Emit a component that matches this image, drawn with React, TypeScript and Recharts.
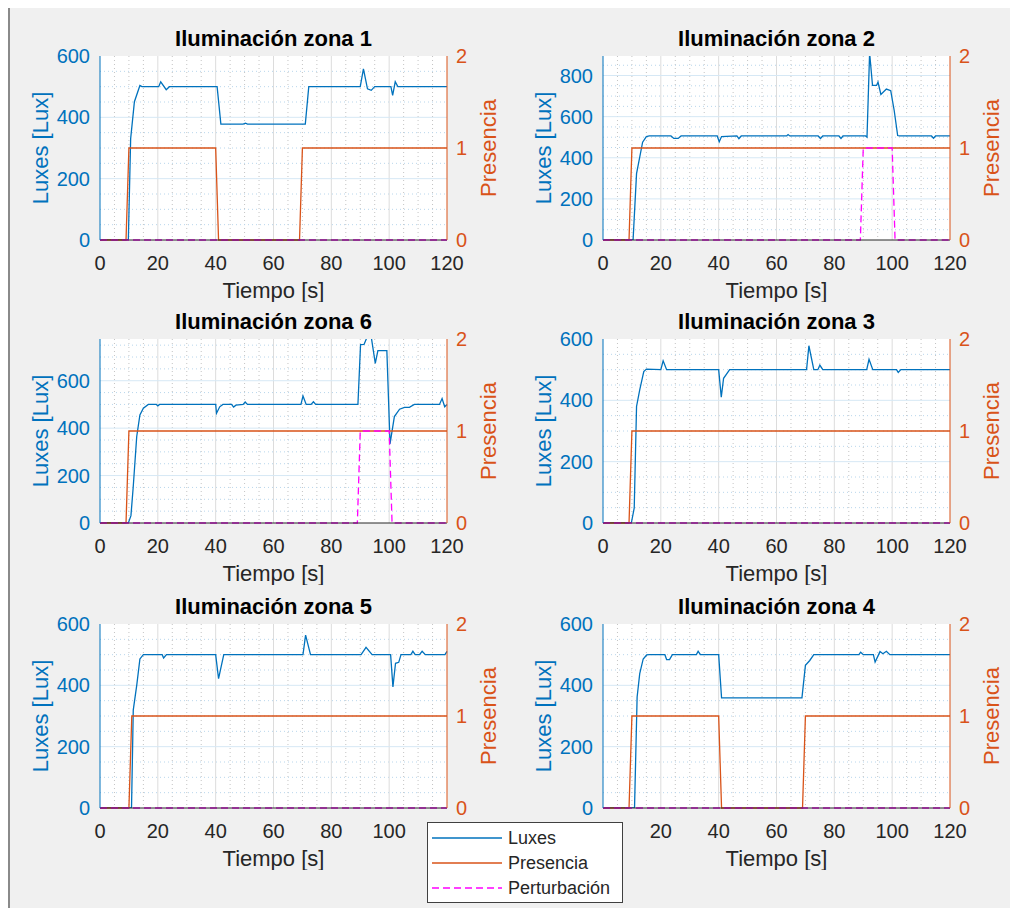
import React from 'react';
import { ComposedChart, Line, XAxis, YAxis, CartesianGrid } from 'recharts';

const FONT = '"Liberation Sans", Arial, Helvetica, sans-serif';
const AZUL = '#0072BD';
const NARANJA = '#D95319';
const MAGENTA = '#FF00FF';
const GRIS = '#262626';

// ejes
const tiempoTicks = [0, 20, 40, 60, 80, 100, 120];
const tiempoMayores = [20, 40, 60, 80, 100];
const tiempoMenores = [5, 10, 15, 25, 30, 35, 45, 50, 55, 65, 70, 75, 85, 90, 95, 105, 110, 115];
const luxTicks600 = [0, 200, 400, 600];
const luxTicks800 = [0, 200, 400, 600, 800];
const luxMayores = [200, 400, 600, 800];
const luxMenores = [50, 100, 150, 250, 300, 350, 450, 500, 550, 650, 700, 750, 850];
const presenciaTicks = [0, 1, 2];

// [tiempo, valor]
const zona1Luxes = [[0, 0], [9.8, 0], [10.6, 330], [11.9, 451], [13.8, 504], [14.5, 500], [20.3, 500], [21, 516], [22.9, 490], [24, 500], [40.5, 500], [41.8, 378], [49.5, 378], [50.3, 381], [51, 378], [71, 378], [72.2, 500], [90, 500], [91.1, 558], [92.5, 493], [93.8, 488], [95, 500], [100.6, 500], [101.2, 472], [102.1, 516], [103, 500], [120, 500]];
const zona1Presencia = [[0, 0], [9, 0], [10, 1], [40, 1], [41, 0], [69, 0], [70, 1], [120, 1]];
const zona1Perturbacion = [[0, 0], [120, 0]];

const zona2Luxes = [[0, 0], [10.4, 0], [11.6, 323], [13.7, 476], [15, 503], [16, 506], [23.5, 506], [24.5, 494], [26, 494], [27, 506], [39.5, 506], [40.2, 478], [41, 503], [46.3, 506], [47, 493], [47.8, 506], [63.5, 506], [64, 513], [64.6, 506], [74.4, 506], [75.2, 494], [76, 506], [81.6, 506], [82.3, 494], [83, 506], [90.8, 506], [91.3, 500], [92.2, 910], [93.2, 752], [94.6, 752], [95.1, 768], [96.1, 708], [98, 734], [99.5, 726], [100.7, 630], [101.9, 508], [102.5, 506], [113.6, 506], [114.3, 495], [115, 506], [120, 506]];
const zona2Presencia = [[0, 0], [9, 0], [10, 1], [120, 1]];
const zona2Perturbacion = [[0, 0], [89, 0], [90, 1], [100, 1], [101, 0], [120, 0]];

const zona6Luxes = [[0, 0], [9.8, 0], [10.7, 31], [11.5, 154], [12.7, 365], [13.8, 456], [15, 484], [16.7, 500], [19.5, 500], [20, 494], [20.6, 500], [40, 500], [40.3, 463], [41.4, 490], [42.5, 500], [45.5, 500], [46.2, 489], [47, 497], [49.5, 500], [50.2, 510], [51, 500], [69.5, 500], [70.2, 536], [71.3, 500], [73, 500], [73.8, 511], [74.6, 500], [89.2, 500], [90.1, 752], [91.3, 753], [92.4, 785], [93.8, 785], [95.2, 673], [96.1, 727], [99.2, 727], [100.3, 334], [101.8, 449], [103.6, 480], [105.3, 488], [107, 488], [108.7, 500], [117.4, 500], [118.3, 525], [119.2, 490], [120, 500]];
const zona6Presencia = [[0, 0], [9, 0], [10, 1], [120, 1]];
const zona6Perturbacion = [[0, 0], [89, 0], [90, 1], [100, 1], [101, 0], [120, 0]];

const zona3Luxes = [[0, 0], [9.8, 0], [10.8, 49], [11.6, 380], [12.7, 434], [14.1, 494], [15, 502], [20, 500], [20.8, 529], [22, 500], [40, 500], [40.9, 410], [41.7, 472], [43.8, 500], [70.4, 500], [71.2, 578], [72.9, 500], [74.3, 500], [75, 515], [76, 500], [91.2, 500], [92, 534], [93.3, 500], [101.5, 500], [102.1, 491], [103, 500], [120, 500]];
const zona3Presencia = [[0, 0], [9, 0], [10, 1], [120, 1]];
const zona3Perturbacion = [[0, 0], [120, 0]];

const zona5Luxes = [[0, 0], [10.9, 0], [11.5, 319], [12.7, 400], [13.8, 486], [15, 500], [21.5, 500], [22, 489], [23, 500], [40, 500], [41, 422], [42.8, 500], [70.2, 500], [71.1, 564], [72.8, 500], [90.3, 500], [92, 524], [94.1, 500], [100.5, 500], [101.3, 395], [102.2, 472], [103.3, 475], [104.1, 500], [107.5, 500], [108.2, 511], [109, 500], [110.5, 500], [111.4, 511], [112.5, 500], [119.3, 500], [120, 511]];
const zona5Presencia = [[0, 0], [10, 0], [11, 1], [120, 1]];
const zona5Perturbacion = [[0, 0], [120, 0]];

const zona4Luxes = [[0, 0], [10.9, 0], [11.8, 362], [12.7, 438], [13.9, 486], [15.1, 499], [16, 500], [21.4, 500], [22, 484], [23, 484], [24, 500], [32.3, 500], [32.9, 511], [33.7, 500], [40, 500], [41, 359], [68.8, 359], [70, 465], [71.5, 481], [72.9, 500], [88.5, 500], [89.1, 508], [90, 500], [93.5, 500], [94.1, 476], [95.8, 510], [96.8, 503], [98, 511], [99.2, 500], [120, 500]];
const zona4Presencia = [[0, 0], [9, 0], [10, 1], [40, 1], [41, 0], [69, 0], [70, 1], [120, 1]];
const zona4Perturbacion = [[0, 0], [120, 0]];

const paneles = [
  { titulo: 'Iluminación zona 1', luxes: zona1Luxes, presencia: zona1Presencia, pert: zona1Perturbacion, luxMax: 600, luxTicks: luxTicks600, left: 0, top: 6 },
  { titulo: 'Iluminación zona 2', luxes: zona2Luxes, presencia: zona2Presencia, pert: zona2Perturbacion, luxMax: 895, luxTicks: luxTicks800, left: 503, top: 6 },
  { titulo: 'Iluminación zona 6', luxes: zona6Luxes, presencia: zona6Presencia, pert: zona6Perturbacion, luxMax: 776, luxTicks: luxTicks600, left: 0, top: 289 },
  { titulo: 'Iluminación zona 3', luxes: zona3Luxes, presencia: zona3Presencia, pert: zona3Perturbacion, luxMax: 600, luxTicks: luxTicks600, left: 503, top: 289 },
  { titulo: 'Iluminación zona 5', luxes: zona5Luxes, presencia: zona5Presencia, pert: zona5Perturbacion, luxMax: 600, luxTicks: luxTicks600, left: 0, top: 574 },
  { titulo: 'Iluminación zona 4', luxes: zona4Luxes, presencia: zona4Presencia, pert: zona4Perturbacion, luxMax: 600, luxTicks: luxTicks600, left: 503, top: 574 },
];

const W = 503, H = 296;
const PL = 100, PW = 347, PT = 50, PH = 184;

const pts = (a: number[][]) => a.map(([t, v]) => ({ t, v }));

const Panel = ({ p }: any) => {
  const mayores = luxMayores.filter((v) => v < p.luxMax);
  const menores = luxMenores.filter((v) => v < p.luxMax);
  return (
    <div style={{ position: 'absolute', left: p.left, top: p.top }}>
      <ComposedChart width={W} height={H} margin={{ top: PT, right: 0, bottom: 0, left: 0 }}>
        <CartesianGrid xAxisId="t" yAxisId="lux" fill="#ffffff" horizontal={false} verticalValues={tiempoMenores} stroke="#c4c4c4" strokeDasharray="1 3" />
        <CartesianGrid xAxisId="t" yAxisId="lux" vertical={false} horizontalValues={menores} stroke="#b8d6ec" strokeDasharray="1 3" />
        <CartesianGrid xAxisId="t" yAxisId="lux" horizontal={false} verticalValues={tiempoMayores} stroke="#dcdcdc" />
        <CartesianGrid xAxisId="t" yAxisId="lux" vertical={false} horizontalValues={mayores} stroke="#d6e8f5" />
        <XAxis xAxisId="top" orientation="top" type="number" dataKey="t" domain={[0, 120]} tick={false} tickLine={false} height={0}
          axisLine={{ stroke: GRIS }} />
        <XAxis xAxisId="t" dataKey="t" type="number" domain={[0, 120]} ticks={tiempoTicks} interval={0} tickLine={false} tickSize={0} tickMargin={16} height={62}
          axisLine={{ stroke: GRIS }} tick={{ fill: GRIS, fontSize: 20, fontFamily: FONT }}
          label={() => (
            <g>
              <text x={PL + PW / 2} y={PT - 10} textAnchor="middle" fontFamily={FONT} fontSize={22} fontWeight="bold" fill="#000">{p.titulo}</text>
              <text x={PL + PW / 2} y={PT + PH + 58} textAnchor="middle" fontFamily={FONT} fontSize={22} fill={GRIS}>Tiempo [s]</text>
            </g>
          )} />
        <YAxis yAxisId="lux" orientation="left" type="number" domain={[0, p.luxMax]} ticks={p.luxTicks} allowDataOverflow interval={0} width={PL}
          tickLine={false} tickSize={0} tickMargin={10} axisLine={{ stroke: AZUL }} tick={{ fill: AZUL, fontSize: 20, fontFamily: FONT }}
          label={() => (
            <text x={40} y={PT + PH / 2} transform={`rotate(-90 40 ${PT + PH / 2})`} textAnchor="middle" dominantBaseline="central" fontFamily={FONT} fontSize={22} fill={AZUL}>Luxes [Lux]</text>
          )} />
        <YAxis yAxisId="pres" orientation="right" type="number" domain={[0, 2]} ticks={presenciaTicks} interval={0} width={W - PL - PW}
          tickLine={false} tickSize={0} tickMargin={9} axisLine={{ stroke: NARANJA }} tick={{ fill: NARANJA, fontSize: 20, fontFamily: FONT }}
          label={() => (
            <text x={PL + PW + 41} y={PT + PH / 2} transform={`rotate(-90 ${PL + PW + 41} ${PT + PH / 2})`} textAnchor="middle" dominantBaseline="central" fontFamily={FONT} fontSize={22} fill={NARANJA}>Presencia</text>
          )} />
        <Line xAxisId="t" yAxisId="lux" data={pts(p.luxes)} dataKey="v" name="Luxes" type="linear" stroke={AZUL} strokeWidth={1.3} dot={false} activeDot={false} isAnimationActive={false} />
        <Line xAxisId="t" yAxisId="pres" data={pts(p.presencia)} dataKey="v" name="Presencia" type="linear" stroke={NARANJA} strokeWidth={1.3} dot={false} activeDot={false} isAnimationActive={false} />
        <Line xAxisId="t" yAxisId="pres" data={pts(p.pert)} dataKey="v" name="Perturbación" type="linear" stroke={MAGENTA} strokeWidth={1.3} strokeDasharray="7 4" dot={false} activeDot={false} isAnimationActive={false} />
      </ComposedChart>
    </div>
  );
};

const leyenda = [
  { nombre: 'Luxes', color: AZUL, dash: undefined },
  { nombre: 'Presencia', color: NARANJA, dash: undefined },
  { nombre: 'Perturbación', color: MAGENTA, dash: '7 4' },
];

const Leyenda = () => (
  <svg style={{ position: 'absolute', left: 427, top: 822 }} width={196} height={82}>
    <rect x={0.5} y={0.5} width={195} height={80} fill="#fff" stroke="#404040" />
    {leyenda.map((it, i) => (
      <g key={it.nombre}>
        <line x1={5} x2={75} y1={16 + i * 25} y2={16 + i * 25} stroke={it.color} strokeWidth={1.3} strokeDasharray={it.dash} />
        <text x={81} y={16 + i * 25} dominantBaseline="central" fontFamily={FONT} fontSize={18} fill={GRIS}>{it.nombre}</text>
      </g>
    ))}
  </svg>
);

export default function App() {
  return (
    <div style={{ position: 'relative', width: 1018, height: 916, margin: -8, background: '#fff', overflow: 'hidden' }}>
      <div style={{ position: 'absolute', left: 8, top: 5, width: 1010, height: 911, background: '#f0f0f0', borderTop: '2px solid #8a8a8a', borderLeft: '2px solid #8a8a8a', boxSizing: 'border-box' }} />
      {paneles.map((p) => (
        <Panel key={p.titulo} p={p} />
      ))}
      <Leyenda />
    </div>
  );
}
